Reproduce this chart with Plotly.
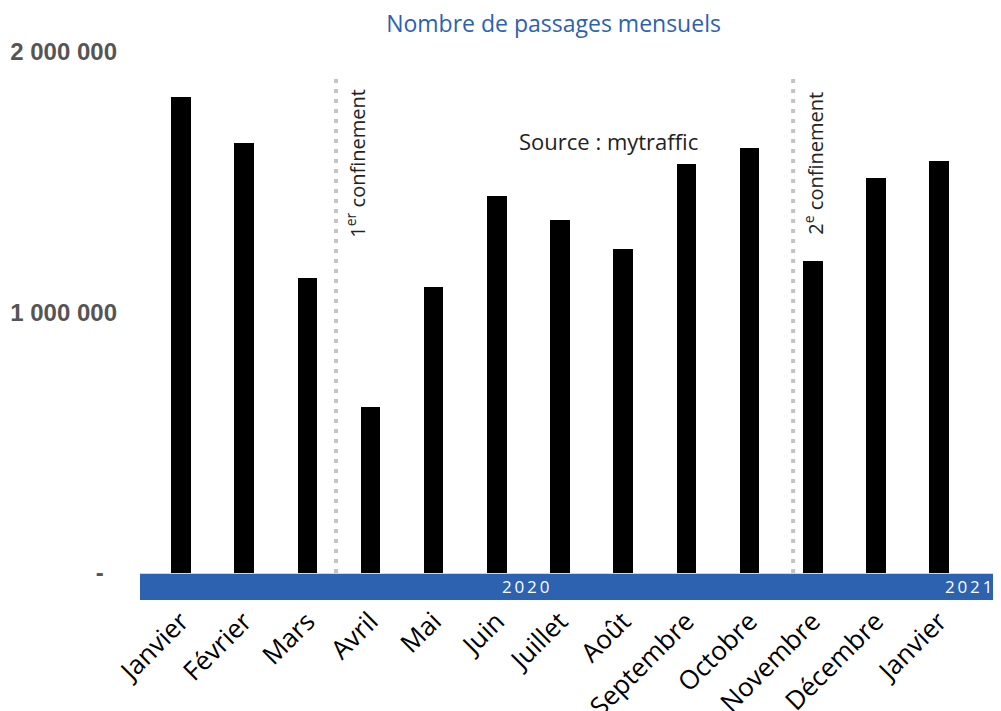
import plotly.graph_objects as go

months = ["Janvier", "Février", "Mars", "Avril", "Mai", "Juin", "Juillet",
          "Août", "Septembre", "Octobre", "Novembre", "Décembre", "Janvier"]
passages = [1827000, 1651000, 1132000, 637000, 1098000, 1447000, 1355000,
            1244000, 1570000, 1631000, 1198000, 1516000, 1582000]
y_tick_vals = [0, 1000000, 2000000]
y_tick_text = ["-\u00a0\u00a0", "1 000 000", "2 000 000"]
years = ["2020", "2021"]
year_pos = [5.45, 12.46]
lockdown_pos = [2.454, 9.69]
lockdown_labels = ["1<sup>er</sup> confinement", "2<sup>e</sup> confinement"]
lockdown_label_pos = [2.77, 10.02]

x_idx = list(range(len(months)))

fig = go.Figure()
fig.add_trace(go.Bar(x=x_idx, y=passages, width=0.31,
                     marker=dict(color="black", line=dict(width=0)),
                     hoverinfo="skip"))

band_bottom = -103800
# blue year band
fig.add_shape(type="rect", xref="paper", yref="y", x0=0, x1=1,
              y0=band_bottom, y1=-3000, fillcolor="#2c62b0",
              line=dict(width=0), layer="below")

for xp in lockdown_pos:
    fig.add_shape(type="line", xref="x", yref="y", x0=xp, x1=xp,
                  y0=0, y1=1910000,
                  line=dict(color="#c4c4c4", width=4, dash="4px,6px"))

for lbl, xp in zip(lockdown_labels, lockdown_label_pos):
    fig.add_annotation(x=xp, y=1575000, xref="x", yref="y", text=lbl,
                       textangle=-90, showarrow=False,
                       font=dict(family="Open Sans", size=20, color="#222"))

for yr, xp in zip(years, year_pos):
    fig.add_annotation(x=xp, y=band_bottom / 2, xref="x", yref="y",
                       text="\u2009".join(yr), showarrow=False,
                       font=dict(family="Open Sans", size=17, color="white"))

fig.add_annotation(x=6.76, y=1659000, xref="x", yref="y",
                   text="Source : mytraffic", showarrow=False,
                   font=dict(family="Open Sans", size=22, color="#222"))

fig.update_layout(
    width=1001, height=711,
    margin=dict(l=132, r=0, t=32, b=119),
    paper_bgcolor="white", plot_bgcolor="white",
    showlegend=False,
    bargap=0,
    title=dict(text="Nombre de passages mensuels", x=0.545, xanchor="center",
               y=0.978, yanchor="middle", yref="container",
               font=dict(family="Open Sans", size=23, color="#2c62b0")),
    xaxis=dict(range=[-0.649, 13.107], tickvals=x_idx, ticktext=months,
               tickangle=-45, showgrid=False, zeroline=False, showline=False,
               ticks="", automargin=False,
               tickfont=dict(family="Open Sans", size=26, color="black")),
    yaxis=dict(range=[band_bottom, 2046000], tickvals=y_tick_vals,
               ticktext=y_tick_text, showgrid=False, zeroline=False,
               showline=False, ticks="", ticklabelstandoff=22, automargin=False,
               tickfont=dict(family="Liberation Sans", size=24, color="#555",
                             weight="bold")),
)

fig.write_html("out.html")
